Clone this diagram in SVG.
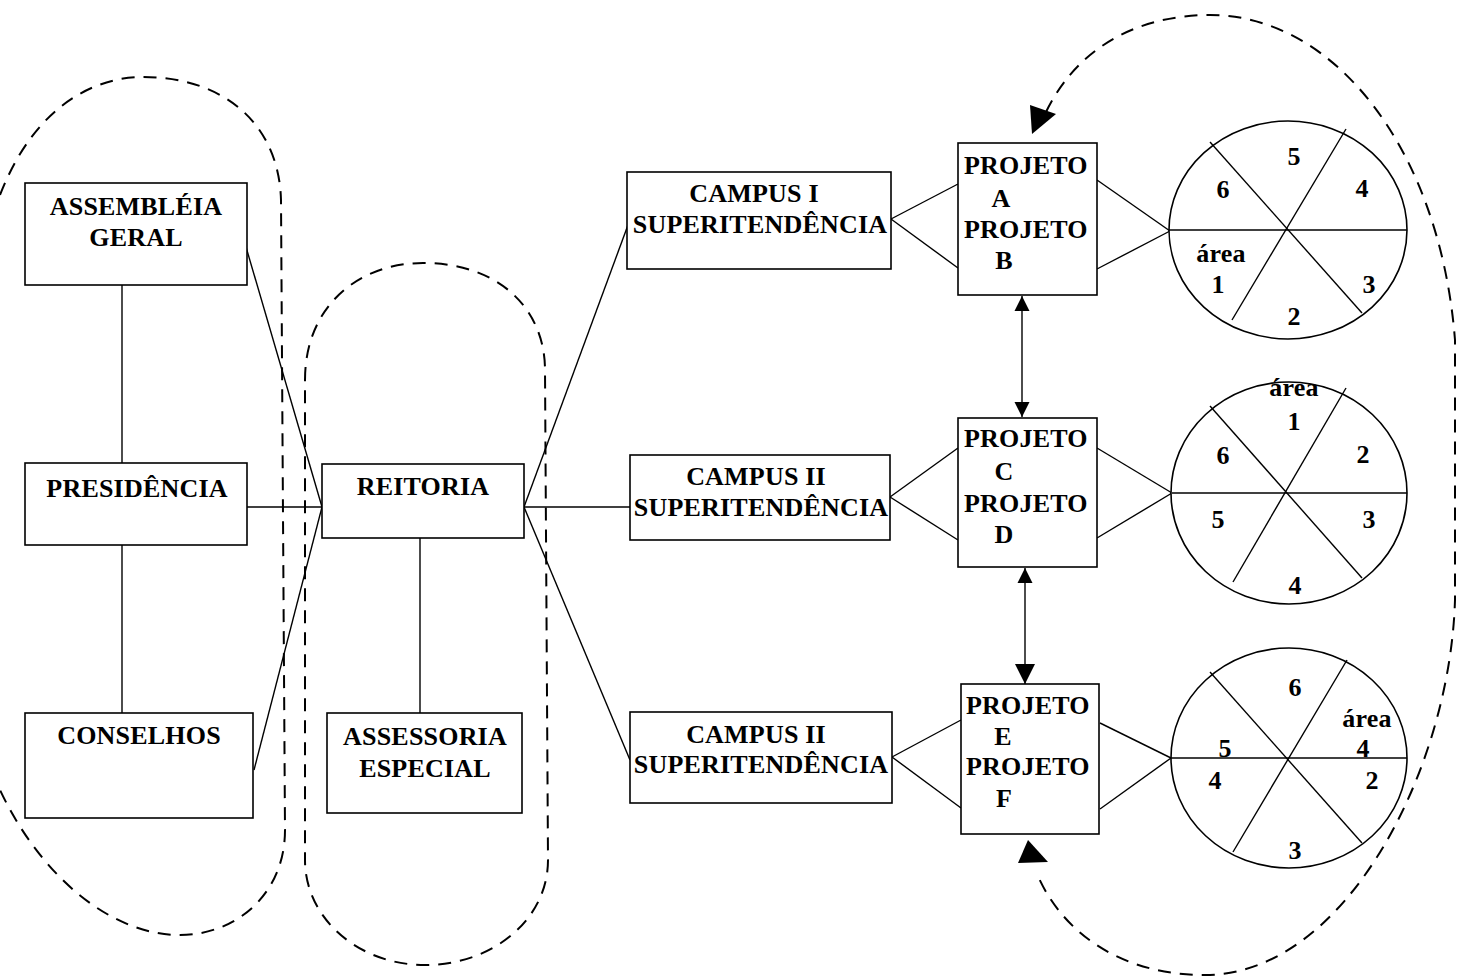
<svg xmlns="http://www.w3.org/2000/svg" width="1458" height="979" viewBox="0 0 1458 979">
<style>
.box{fill:#fff;stroke:#000;stroke-width:1.6}
.t{font-family:"Liberation Serif","Times New Roman",serif;font-weight:bold;font-size:26px;letter-spacing:0.2px;fill:#000}
.m{text-anchor:middle}
.ln{stroke:#000;stroke-width:1.4;fill:none}
.dash{stroke:#000;stroke-width:2;fill:none;stroke-dasharray:13 9}
.pie{fill:#fff;stroke:#000;stroke-width:1.6}
</style>
<defs>
<marker id="ah" viewBox="0 0 10 10" refX="10" refY="5" markerWidth="15" markerHeight="16" markerUnits="userSpaceOnUse" orient="auto-start-reverse">
<path d="M0,0 L10,5 L0,10 Z" fill="#000"/>
</marker>
<marker id="ah2" viewBox="0 0 10 10" refX="10" refY="5" markerWidth="20" markerHeight="24" markerUnits="userSpaceOnUse" orient="auto-start-reverse">
<path d="M0,0 L10,5 L0,10 Z" fill="#000"/>
</marker>
</defs>
<rect width="1458" height="979" fill="#fff"/>

<g id="groups">
<path class="dash" d="M0,195 C35,105 95,77 143,77 C225,77 279,125 281,200 L285,830 C285,895 235,935 180,935 C110,935 40,875 0,790"/>
<path class="dash" d="M305,380 C305,305 360,263 423,263 C500,263 545,310 545,370 L548,860 C548,920 492,965 425,965 C358,965 305,918 305,860 Z"/>
<path class="dash" d="M1046,112 C1080,42 1145,15 1210,15 C1335,15 1440,150 1455,340 L1455,600 C1450,770 1345,975 1205,975 C1120,975 1062,932 1037,874"/>
<polygon points="1030,105 1056,114 1032,134" fill="#000"/>
<polygon points="1018,863 1028,840 1048,862" fill="#000"/>
</g>

<g id="connectors">
<line class="ln" x1="122" y1="285" x2="122" y2="463"/>
<line class="ln" x1="122" y1="545" x2="122" y2="713"/>
<line class="ln" x1="247" y1="507" x2="322" y2="507"/>
<line class="ln" x1="246" y1="247" x2="322" y2="507"/>
<line class="ln" x1="254" y1="770" x2="322" y2="507"/>
<line class="ln" x1="420" y1="538" x2="420" y2="713"/>
<line class="ln" x1="524" y1="507" x2="628" y2="225"/>
<line class="ln" x1="524" y1="507" x2="630" y2="507"/>
<line class="ln" x1="524" y1="507" x2="630" y2="760"/>
<line class="ln" x1="891" y1="219" x2="958" y2="184"/>
<line class="ln" x1="891" y1="219" x2="958" y2="268"/>
<line class="ln" x1="890" y1="497" x2="958" y2="448"/>
<line class="ln" x1="890" y1="497" x2="958" y2="540"/>
<line class="ln" x1="892" y1="757" x2="961" y2="720"/>
<line class="ln" x1="892" y1="757" x2="961" y2="808"/>
<line class="ln" x1="1097" y1="180" x2="1170" y2="231"/>
<line class="ln" x1="1097" y1="269" x2="1170" y2="231"/>
<line class="ln" x1="1097" y1="448" x2="1172" y2="493"/>
<line class="ln" x1="1097" y1="538" x2="1172" y2="493"/>
<line class="ln" x1="1100" y1="723" x2="1171" y2="758"/>
<line class="ln" x1="1100" y1="809" x2="1171" y2="758"/>
<line class="ln" x1="1022" y1="296" x2="1022" y2="417" marker-start="url(#ah)" marker-end="url(#ah)" stroke-width="2"/>
<line class="ln" x1="1025" y1="568" x2="1025" y2="684" marker-start="url(#ah)" marker-end="url(#ah2)" stroke-width="2"/>
</g>

<g id="assembleia">
<rect class="box" x="25" y="183" width="222" height="102"/>
<text class="t m" x="136" y="215">ASSEMBLÉIA</text>
<text class="t m" x="136" y="246">GERAL</text>
</g>
<g id="presidencia">
<rect class="box" x="25" y="463" width="222" height="82"/>
<text class="t m" x="137" y="497">PRESIDÊNCIA</text>
</g>
<g id="conselhos">
<rect class="box" x="25" y="713" width="228" height="105"/>
<text class="t m" x="139" y="744">CONSELHOS</text>
</g>
<g id="reitoria">
<rect class="box" x="322" y="464" width="202" height="74"/>
<text class="t m" x="423" y="495">REITORIA</text>
</g>
<g id="assessoria">
<rect class="box" x="327" y="713" width="195" height="100"/>
<text class="t m" x="425" y="745">ASSESSORIA</text>
<text class="t m" x="425" y="777">ESPECIAL</text>
</g>
<g id="campus1">
<rect class="box" x="627" y="172" width="264" height="97"/>
<text class="t m" x="754" y="202">CAMPUS I</text>
<text class="t m" x="760" y="233">SUPERITENDÊNCIA</text>
</g>
<g id="campus2">
<rect class="box" x="630" y="455" width="260" height="85"/>
<text class="t m" x="756" y="485">CAMPUS II</text>
<text class="t m" x="761" y="516">SUPERITENDÊNCIA</text>
</g>
<g id="campus3">
<rect class="box" x="630" y="712" width="262" height="91"/>
<text class="t m" x="756" y="743">CAMPUS II</text>
<text class="t m" x="761" y="773">SUPERITENDÊNCIA</text>
</g>
<g id="projetoAB">
<rect class="box" x="958" y="143" width="139" height="152"/>
<text class="t" x="964" y="174">PROJETO</text>
<text class="t m" x="1001" y="207">A</text>
<text class="t" x="964" y="238">PROJETO</text>
<text class="t m" x="1004" y="269">B</text>
</g>
<g id="projetoCD">
<rect class="box" x="958" y="418" width="139" height="149"/>
<text class="t" x="964" y="447">PROJETO</text>
<text class="t m" x="1004" y="480">C</text>
<text class="t" x="964" y="512">PROJETO</text>
<text class="t m" x="1004" y="543">D</text>
</g>
<g id="projetoEF">
<rect class="box" x="961" y="684" width="138" height="150"/>
<text class="t" x="966" y="714">PROJETO</text>
<text class="t m" x="1003" y="745">E</text>
<text class="t" x="966" y="775">PROJETO</text>
<text class="t m" x="1004" y="807">F</text>
</g>

<g id="areas1">
<ellipse class="pie" cx="1288" cy="230" rx="119" ry="109"/>
<line class="ln" x1="1169" y1="230" x2="1407" y2="230"/>
<line class="ln" x1="1210" y1="142" x2="1362" y2="313"/>
<line class="ln" x1="1346" y1="129" x2="1232" y2="320"/>
<text class="t m" x="1294" y="165">5</text>
<text class="t m" x="1223" y="198">6</text>
<text class="t m" x="1362" y="197">4</text>
<text class="t m" x="1221" y="262">área</text>
<text class="t m" x="1218" y="293">1</text>
<text class="t m" x="1369" y="293">3</text>
<text class="t m" x="1294" y="325">2</text>
</g>
<g id="areas2">
<ellipse class="pie" cx="1289" cy="493" rx="118" ry="111"/>
<line class="ln" x1="1172" y1="493" x2="1407" y2="493"/>
<line class="ln" x1="1210" y1="406" x2="1362" y2="578"/>
<line class="ln" x1="1346" y1="388" x2="1233" y2="582"/>
<text class="t m" x="1294" y="396">área</text>
<text class="t m" x="1294" y="430">1</text>
<text class="t m" x="1223" y="464">6</text>
<text class="t m" x="1363" y="463">2</text>
<text class="t m" x="1218" y="528">5</text>
<text class="t m" x="1369" y="528">3</text>
<text class="t m" x="1295" y="594">4</text>
</g>
<g id="areas3">
<ellipse class="pie" cx="1289" cy="758" rx="118" ry="110"/>
<line class="ln" x1="1171" y1="758" x2="1407" y2="758"/>
<line class="ln" x1="1210" y1="672" x2="1362" y2="843"/>
<line class="ln" x1="1347" y1="660" x2="1233" y2="852"/>
<text class="t m" x="1295" y="696">6</text>
<text class="t m" x="1367" y="727">área</text>
<text class="t m" x="1363" y="757">4</text>
<text class="t m" x="1225" y="757">5</text>
<text class="t m" x="1215" y="789">4</text>
<text class="t m" x="1372" y="789">2</text>
<text class="t m" x="1295" y="859">3</text>
</g>
</svg>
